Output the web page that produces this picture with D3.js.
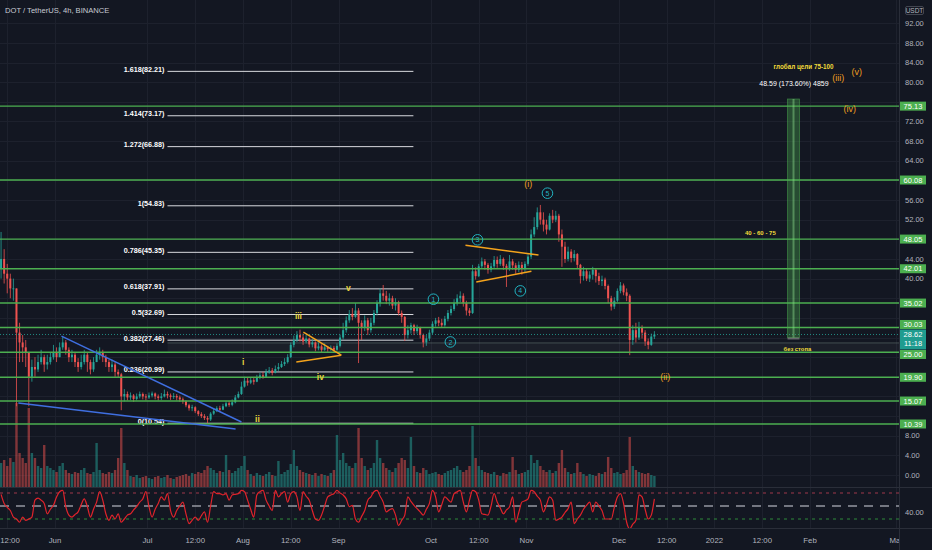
<!DOCTYPE html>
<html>
<head>
<meta charset="utf-8">
<script src="https://cdn.jsdelivr.net/npm/d3@7"></script>
<style>
html, body { margin: 0; padding: 0; background: #131722; }
svg { display: block; font-family: "Liberation Sans", Arial, sans-serif; }
</style>
</head>
<body>
<svg id="chart" width="932" height="550"></svg>
<script>
// ---- data (one candle per day from 2021-05-14) ----
var startDate = Date.UTC(2021, 4, 14);
var firstOpen = 42;
var closes = [44,41,40,38,38,29,27,26,25,20,22,21.5,23,24,22.5,23,24,25,24,26,
  27,25.5,24,24.5,23,22,23,24.5,23,21.5,23,24.5,25,24,23,22,22.5,21,20.5,16,
  16.5,15.8,16.2,15.5,16,16.5,16,15.8,16.2,16.6,16,15.7,16,16.5,16.2,15.9,16.1,15.8,15.4,15,
  14.2,13.6,13.8,13,12.4,12,11.6,11.3,12.5,13,13.6,13.3,14,14.6,14.3,14.8,15.8,16.5,18,19.2,
  18.8,19.3,19,19.8,20.3,20,21,21.3,20.8,21.6,22,22.6,23,24,26.5,27.5,28.5,28,27.2,27.8,
  26.6,27,25.8,26.2,25.5,26,25.7,25.9,25.5,26.3,28,29.5,31.5,32.8,32.2,33.5,31,30,31.5,29.5,
  31,33,35,37,36.5,35.5,36,34.5,35.2,33,32.2,28.5,29.5,30.5,29.3,30,28.5,27,27.8,29,
  30.8,31.5,31,30.5,31.8,33,33.8,35,36,36.5,35,33.5,33,41.5,40.5,42.5,43.5,42.8,41.8,42.5,
  43.8,43,44,42.6,42,43.5,42.7,41.8,42.8,42,43,44.5,49,50.5,53.5,52,51,50,52.8,52,
  52.8,49,46.5,44,45.5,44.2,45,42.8,40.5,41.5,40,40.8,41.8,40.5,39.5,39.8,38.5,36,34.3,35.5,
  37.5,38.6,37.2,36.5,27.5,29.5,28,30,29,27.2,26.5,28.2,28.62];
var highs = [49.5,46,43,41,40,38,31,28.5,27.5,25,23.5,24,24.5,25.5,24.5,24.5,25,26.5,26,27,
  28.2,27.5,26,25.5,25,23.8,24.5,25.5,25,23.5,24,25.5,26,25.5,24.5,23.5,23.5,23,21.5,20.8,
  17.5,17,16.8,16.5,16.6,17,16.8,16.5,16.8,17,16.8,16.4,16.7,17.4,17,16.6,16.7,16.5,16.2,15.8,
  15.2,14.5,14.3,14,13.2,12.8,12.4,12,12.8,13.6,14,14.1,14.5,15,15.1,15.4,16.3,17,19,20,
  19.8,19.9,19.8,20.4,20.8,21,21.6,22,21.8,22.3,22.8,23.2,23.8,24.6,27,28.4,29.3,29.6,28.8,28.6,
  28,27.8,27.2,27,26.6,26.8,26.3,26.4,26.3,26.8,28.6,31,32.3,33.6,34,35,34,31.5,32.5,32,
  32,33.6,35.6,38,38.7,37.5,37,36.5,36,35.5,33.5,32.4,30.5,31,30.8,30.6,30.2,28.8,28.5,29.6,
  31.3,32,32.2,31.8,32.4,33.6,34.5,35.8,36.8,37.4,37,35.5,34,42.8,42.3,43,44.3,44,43.2,43.2,
  44.6,44.5,44.8,44.3,43,44.8,44,43.2,43.5,43.4,43.5,45,50,52.5,54.5,55,53.5,52,53.3,54,
  53.8,53.2,50,47.5,46.5,46,45.8,45.2,43,42.4,42,41.5,42.4,42,41.2,40.6,40.2,38.8,36.5,36.2,
  38,39.3,39,38,36.8,30.5,31,31.2,30.5,29.5,27.8,28.8,29.3];
var lows = [40,39,37,36,35.5,14,23,23,22,14,19,20,21,22.5,21,21.5,22.5,23.5,23,24,
  25.5,24.5,23,23,22,21,21.5,22.5,21,20.5,21,23,23.5,23,22,21,21,20,19.8,13.2,
  15,15.2,15.3,14.9,15.2,15.6,15.4,15.2,15.5,15.8,15.4,15.2,15.3,15.8,15.6,15.3,15.5,15.2,14.9,14.5,
  13.8,13.1,13,12.6,12,11.6,11.2,10.54,11,12.2,12.8,12.9,13.2,13.8,13.9,14,14.6,15.6,16.3,17.8,
  18.2,18.5,18.4,18.9,19.5,19.6,20,20.6,20.3,20.7,21.2,21.8,22.2,22.7,23.8,26,27.1,27.2,26.5,26.8,
  26,26,25.2,25.4,25,25.3,25.1,25.3,25.1,25.3,26,27.6,29,31,31.5,32,22.8,27.5,29.3,28.5,
  29,30.5,32.5,34.3,35.5,34.8,34.5,33.8,33.5,32.5,31,27.3,27.8,28.8,28.5,28.8,27.8,26,26.3,27.3,
  28.7,30.2,30.3,30,30.2,31.3,32.5,33.4,34.5,35.2,34.3,32.5,32.4,32.8,39.8,40.3,42,41.8,41,41.3,
  42,42.2,42.6,41.8,38.3,41.6,41.8,41,41.3,40.8,41.3,42.6,44,48.5,50,51,49.6,49,49.8,51.3,
  51.5,47.5,42.4,43.2,43.5,43.3,43.5,42,39,39.6,39.5,39.3,39.8,39.2,38.7,38.5,37.8,35,33.5,33.8,
  35.2,37,36.6,35.4,24.4,26.5,27,27.5,27.8,26.3,25.6,26.3,27.7];
var volumes = [25,28,22,30,26,85,35,30,25,80,35,30,22,20,43,22,20,18,16,22,
  25,18,15,14,16,15,18,20,15,14,16,45,18,15,14,16,15,18,30,60,
  25,18,12,11,13,10,11,12,10,9,11,12,10,11,13,10,9,11,12,13,
  14,12,15,14,16,15,18,22,20,18,15,17,16,33,18,15,17,20,22,32,
  18,14,12,15,13,12,14,16,13,12,27,14,16,18,24,38,22,18,16,15,
  14,13,15,12,14,13,12,15,18,53,28,35,25,22,20,25,60,30,22,18,
  20,25,48,30,25,20,18,16,20,25,30,28,20,51,22,16,15,20,18,14,
  15,16,14,13,15,17,18,20,22,18,16,18,22,62,30,22,18,16,15,14,
  16,13,12,15,14,16,31,18,14,15,16,18,33,25,28,22,18,16,18,15,
  17,25,38,20,16,14,15,25,16,14,12,14,13,12,15,14,16,31,20,15,
  16,14,15,18,51,22,18,16,15,14,15,13,12];
var rsiValues = [68,54,48,43,33,30,25,33,28,30,33,59,62,59,54,38,45,51,64,72,
  74,49,36,33,37,41,52,61,49,33,45,56,72,59,38,28,36,30,38,25,
  30,36,38,44,49,56,61,72,49,33,45,54,64,59,69,43,33,43,50,56,
  38,23,28,33,28,35,41,25,50,72,69,69,67,69,59,67,68,69,74,72,
  59,45,33,67,72,74,59,50,43,74,64,69,72,56,69,72,64,43,72,65,
  59,43,30,28,36,50,64,67,69,74,70,67,61,49,51,30,25,34,43,59,
  64,72,74,65,56,41,44,46,36,20,28,36,64,57,51,46,41,36,45,54,
  74,64,41,52,64,60,56,69,72,74,56,41,59,74,72,59,38,37,36,50,
  69,56,47,38,44,49,64,25,40,56,58,61,74,72,65,59,41,52,64,59,
  28,30,33,40,46,56,23,30,36,45,51,56,41,56,50,43,30,30,30,48,
  64,69,54,25,15,22,28,67,64,45,30,36,61];

var priceLevels = [75.13, 60.08, 48.05, 42.01, 35.02, 30.03, 25.00, 19.90, 15.07, 10.39];
var lastPrice = 28.62;
var countdown = "11:18";

var fibRatios = ["1.618", "1.414", "1.272", "1", "0.786", "0.618", "0.5", "0.382", "0.236", "0"];
var fibPrices = [82.21, 73.17, 66.88, 54.83, 45.35, 37.91, 32.69, 27.46, 20.99, 10.54];
var fibDays = [54.5, 134.3];

var priceTicks = d3.range(0, 96, 4);
var tickDates = ["2021-05-16T12:00", "2021-06-01T00:00", "2021-07-01T00:00", "2021-07-16T12:00",
  "2021-08-01T00:00", "2021-08-16T12:00", "2021-09-01T00:00", "2021-10-01T00:00", "2021-10-16T12:00",
  "2021-11-01T00:00", "2021-12-01T00:00", "2021-12-16T12:00", "2022-01-01T00:00", "2022-01-16T12:00",
  "2022-02-01T00:00", "2022-03-01T00:00"];
var tickLabels = ["12:00", "Jun", "Jul", "12:00", "Aug", "12:00", "Sep", "Oct", "12:00",
  "Nov", "Dec", "12:00", "2022", "12:00", "Feb", "Mar"];
var rsiBands = [70, 50, 30];

// trend lines as [day, price] pairs
var wedgeLines = [[[20.1, 28.3], [78.5, 10.8]], [[6.1, 14.66], [76.6, 9.37]]];
var triangleLines = [[[98.6, 29.1], [110.9, 24.4]], [[96.3, 23.0], [110.9, 24.4]],
  [[151.2, 46.8], [174.9, 44.8]], [[154.7, 39.3], [172.6, 41.5]]];

var minorWaves = ["i", "ii", "iii", "iv", "v"];
var minorDays = [79.1, 83.7, 97.0, 104.1, 113.2];
var minorPrices = [23.0, 11.4, 32.4, 20.0, 38.1];
var majorWaves = ["(i)", "(ii)", "(iii)", "(iv)", "(v)"];
var majorDays = [171.6, 216.0, 272.2, 275.9, 278.2];
var majorPrices = [59.3, 20.0, 81.0, 74.5, 82.1];
var circleWaves = ["1", "2", "3", "4", "5"];
var circleDays = [140.8, 146.3, 155.1, 169.0, 177.8];
var circlePrices = [35.8, 27.1, 47.9, 37.5, 57.4];

var positionDays = [255.7, 259.6];
var positionEntry = 27.99, positionTarget = 76.58, positionStop = 27.6;
var noteTexts = ["глобал цели 75-100", "48.59 (173.60%) 4859", "40 - 60 - 75", "без стопа"];
var noteDays = [260.9, 257.8, 246.9, 258.9];
var notePrices = [83.1, 79.6, 49.3, 25.7];

// ---- layout ----
var W = 932, H = 550, plotRight = 899, priceBottom = 488, rsiBottom = 528;
var bg = "#131722", gridColor = "#1d212d", axisText = "#b2b5be";
var upColor = "#26a69a", downColor = "#ef5350", levelColor = "#4caf50";

var svg = d3.select("#chart");
svg.append("rect").attr("width", W).attr("height", H).attr("fill", bg);

var x = d3.scaleUtc()
    .domain([new Date(Date.UTC(2021, 4, 14)), new Date(Date.UTC(2022, 1, 1))])
    .range([-0.47, 810]);
var y = d3.scaleLinear().domain([0, 92]).range([475, 23.3]);
var yVol = d3.scaleLinear().domain([0, 100]).range([priceBottom, priceBottom - 100]);
var yRsi = d3.scaleLinear().domain([30, 70]).range([519, 493]);

function dayDate(d) { return new Date(startDate + d * 864e5); }
function xd(d) { return x(dayDate(d)); }

var defs = svg.append("defs");
defs.append("clipPath").attr("id", "pricePane")
    .append("rect").attr("x", 0).attr("y", 0).attr("width", plotRight).attr("height", priceBottom);
defs.append("clipPath").attr("id", "rsiPane")
    .append("rect").attr("x", 0).attr("y", priceBottom).attr("width", plotRight).attr("height", rsiBottom - priceBottom);
defs.append("clipPath").attr("id", "timeAxis")
    .append("rect").attr("x", 0).attr("y", rsiBottom).attr("width", plotRight).attr("height", H - rsiBottom);

var tickTimes = tickDates.map(function (s) { return new Date(s + ":00Z"); });

// grid
var grid = svg.append("g");
grid.selectAll(".hg").data(priceTicks).enter().append("line")
    .attr("x1", 0).attr("x2", plotRight)
    .attr("y1", function (d) { return Math.round(y(d)) + 0.5; })
    .attr("y2", function (d) { return Math.round(y(d)) + 0.5; })
    .attr("stroke", gridColor);
grid.selectAll(".vg").data(tickTimes).enter().append("line")
    .attr("x1", function (d) { return Math.round(x(d)) + 0.5; })
    .attr("x2", function (d) { return Math.round(x(d)) + 0.5; })
    .attr("y1", 0).attr("y2", rsiBottom)
    .attr("stroke", gridColor);

var price = svg.append("g").attr("clip-path", "url(#pricePane)");

// fib retracement
var fibX1 = xd(fibDays[0]), fibX2 = xd(fibDays[1]);
price.append("rect")
    .attr("x", fibX1).attr("width", plotRight - fibX1)
    .attr("y", y(26.9)).attr("height", y(25.0) - y(26.9))
    .attr("fill", "rgba(255,255,255,0.035)");
price.append("line")
    .attr("x1", fibX1).attr("x2", plotRight)
    .attr("y1", y(26.9)).attr("y2", y(26.9))
    .attr("stroke", "rgba(120,140,130,0.45)");
fibPrices.forEach(function (p, i) {
    price.append("line")
        .attr("x1", fibX1).attr("x2", fibX2)
        .attr("y1", y(p)).attr("y2", y(p))
        .attr("stroke", "#d8dadf").attr("stroke-width", 1);
    price.append("text")
        .attr("x", fibX1 - 3).attr("y", y(p) + 0.5)
        .attr("text-anchor", "end")
        .attr("fill", "#ffffff").attr("font-size", "7.2px").attr("font-weight", "bold")
        .text(fibRatios[i] + "(" + p.toFixed(2) + ")");
});

// candles
var candles = closes.map(function (c, i) {
    return { day: i, open: i === 0 ? firstOpen : closes[i - 1], close: c, high: highs[i], low: lows[i], vol: volumes[i] };
});
function candleColor(d) { return d.close >= d.open ? upColor : downColor; }

price.selectAll(".vol").data(candles).enter().append("rect")
    .attr("x", function (d) { return xd(d.day + 0.5) - 1.2; })
    .attr("width", 2.4)
    .attr("y", function (d) { return yVol(d.vol); })
    .attr("height", function (d) { return priceBottom - yVol(d.vol); })
    .attr("fill", candleColor).attr("opacity", 0.5);

price.selectAll(".wick").data(candles).enter().append("line")
    .attr("x1", function (d) { return xd(d.day + 0.5); })
    .attr("x2", function (d) { return xd(d.day + 0.5); })
    .attr("y1", function (d) { return y(d.high); })
    .attr("y2", function (d) { return y(d.low); })
    .attr("stroke", candleColor).attr("stroke-width", 0.8);
price.selectAll(".body").data(candles).enter().append("rect")
    .attr("x", function (d) { return xd(d.day + 0.5) - 1; })
    .attr("width", 2)
    .attr("y", function (d) { return y(Math.max(d.open, d.close)); })
    .attr("height", function (d) { return Math.max(0.8, Math.abs(y(d.open) - y(d.close))); })
    .attr("fill", candleColor);

// horizontal levels
price.selectAll(".lvl").data(priceLevels).enter().append("line")
    .attr("x1", 0).attr("x2", plotRight)
    .attr("y1", function (d) { return y(d); })
    .attr("y2", function (d) { return y(d); })
    .attr("stroke", levelColor).attr("stroke-width", 1.4);

// last price line
price.append("line")
    .attr("x1", 0).attr("x2", plotRight)
    .attr("y1", y(lastPrice)).attr("y2", y(lastPrice))
    .attr("stroke", upColor).attr("stroke-dasharray", "1,2").attr("opacity", 0.8);

// trend lines
var tline = d3.line().x(function (d) { return xd(d[0]); }).y(function (d) { return y(d[1]); });
wedgeLines.forEach(function (l) {
    price.append("path").attr("d", tline(l)).attr("stroke", "#3f6fe0").attr("stroke-width", 1.5).attr("fill", "none");
});
triangleLines.forEach(function (l) {
    price.append("path").attr("d", tline(l)).attr("stroke", "#f4a31c").attr("stroke-width", 1.5).attr("fill", "none");
});

// long position box
var px1 = xd(positionDays[0]), px2 = xd(positionDays[1]);
price.append("rect")
    .attr("x", px1).attr("width", px2 - px1)
    .attr("y", y(positionTarget)).attr("height", y(positionEntry) - y(positionTarget))
    .attr("fill", "rgba(76,175,80,0.35)").attr("stroke", "rgba(76,175,80,0.6)").attr("stroke-width", 0.8);
price.append("line")
    .attr("x1", (px1 + px2) / 2).attr("x2", (px1 + px2) / 2)
    .attr("y1", y(positionTarget)).attr("y2", y(positionEntry))
    .attr("stroke", "rgba(140,220,140,0.45)").attr("stroke-width", 2);
price.append("rect")
    .attr("x", px1).attr("width", px2 - px1)
    .attr("y", y(positionEntry)).attr("height", y(positionStop) - y(positionEntry))
    .attr("fill", "rgba(150,150,150,0.6)");

// wave labels
minorWaves.forEach(function (t, i) {
    price.append("text")
        .attr("x", xd(minorDays[i])).attr("y", y(minorPrices[i]) + 3)
        .attr("text-anchor", "middle").attr("fill", "#e6d33c")
        .attr("font-size", "8.5px").attr("font-weight", "bold").text(t);
});
majorWaves.forEach(function (t, i) {
    price.append("text")
        .attr("x", xd(majorDays[i])).attr("y", y(majorPrices[i]) + 3.2)
        .attr("text-anchor", "middle").attr("fill", "#f0a020")
        .attr("font-size", "9px").text(t);
});
circleWaves.forEach(function (t, i) {
    var cx = xd(circleDays[i]), cy = y(circlePrices[i]);
    price.append("circle").attr("cx", cx).attr("cy", cy).attr("r", 5.3)
        .attr("fill", "none").attr("stroke", "#22b3c1").attr("stroke-width", 1);
    price.append("text").attr("x", cx).attr("y", cy + 2.6)
        .attr("text-anchor", "middle").attr("fill", "#22b3c1")
        .attr("font-size", "7px").text(t);
});

// notes
var noteColors = ["#f2dc3a", "#ffffff", "#f2dc3a", "#f2dc3a"];
var noteSizes = ["6.3px", "7px", "6px", "5.8px"];
noteTexts.forEach(function (t, i) {
    price.append("text")
        .attr("x", xd(noteDays[i])).attr("y", y(notePrices[i]) + 2.3)
        .attr("text-anchor", "middle").attr("fill", noteColors[i])
        .attr("font-size", noteSizes[i]).attr("font-weight", i === 1 ? "normal" : "bold")
        .text(t);
});

// title
svg.append("text").attr("x", 5).attr("y", 13)
    .attr("fill", "#c8cbd3").attr("font-size", "7.6px")
    .text("DOT / TetherUS, 4h, BINANCE");

// RSI pane
var rsi = svg.append("g").attr("clip-path", "url(#rsiPane)");
var bandStyles = [
    { color: "#a0384a", dash: "3,4" },
    { color: "#9598a1", dash: "9,7" },
    { color: "#2e8b3a", dash: "3,4" }
];
rsiBands.forEach(function (b, i) {
    rsi.append("line")
        .attr("x1", 0).attr("x2", plotRight)
        .attr("y1", yRsi(b)).attr("y2", yRsi(b))
        .attr("stroke", bandStyles[i].color).attr("stroke-dasharray", bandStyles[i].dash)
        .attr("stroke-width", i === 1 ? 1.5 : 1);
});
var rsiLine = d3.line()
    .x(function (d, i) { return xd(i + 0.5); })
    .y(function (d) { return yRsi(d); })
    .curve(d3.curveMonotoneX);
rsi.append("path").datum(rsiValues)
    .attr("d", rsiLine)
    .attr("fill", "none").attr("stroke", "#e0232b").attr("stroke-width", 1.2);

// separators
svg.append("line").attr("x1", 0).attr("x2", W).attr("y1", priceBottom - 0.5).attr("y2", priceBottom - 0.5)
    .attr("stroke", "#2a2e39");
svg.append("line").attr("x1", 0).attr("x2", W).attr("y1", rsiBottom + 0.5).attr("y2", rsiBottom + 0.5)
    .attr("stroke", "#2a2e39");
svg.append("line").attr("x1", plotRight + 0.5).attr("x2", plotRight + 0.5).attr("y1", 0).attr("y2", H)
    .attr("stroke", "#2a2e39");

// time axis
var timeAxis = svg.append("g").attr("clip-path", "url(#timeAxis)");
timeAxis.selectAll("text").data(tickTimes).enter().append("text")
    .attr("x", function (d) { return Math.max(x(d), 10); })
    .attr("y", 543)
    .attr("text-anchor", "middle").attr("fill", axisText).attr("font-size", "7.8px")
    .text(function (d, i) { return tickLabels[i]; });

// price axis labels: the last-price box stays put, level labels slide off it
var lastTop = y(lastPrice) - 5, lastBottom = y(lastPrice) + 15, boxH = 9;
var levelLabelY = priceLevels.map(function (p) {
    var cy = y(p);
    if (cy <= y(lastPrice) && cy + boxH / 2 > lastTop) cy = lastTop - boxH / 2 - 0.5;
    if (cy > y(lastPrice) && cy - boxH / 2 < lastBottom) cy = lastBottom + boxH / 2 + 0.5;
    return cy;
});
var labelYs = levelLabelY.concat([y(lastPrice), y(lastPrice) + 10]);
var shownTicks = priceTicks.filter(function (t) {
    return labelYs.every(function (ly) { return Math.abs(y(t) - ly) > 9; });
});
var axisG = svg.append("g");
axisG.selectAll(".pt").data(shownTicks).enter().append("text")
    .attr("x", 905).attr("y", function (d) { return y(d) + 2.7; })
    .attr("fill", axisText).attr("font-size", "7.5px")
    .text(function (d) { return d.toFixed(2); });
axisG.append("rect").attr("x", 905.5).attr("y", 6.5).attr("width", 18).attr("height", 8)
    .attr("fill", bg).attr("stroke", "#434651").attr("rx", 1.5);
axisG.append("text").attr("x", 914.5).attr("y", 13).attr("text-anchor", "middle")
    .attr("fill", axisText).attr("font-size", "6.5px").text("USDT");
axisG.append("text").attr("x", 905).attr("y", yRsi(40) + 2.7)
    .attr("fill", axisText).attr("font-size", "7.5px").text((40).toFixed(2));

priceLevels.forEach(function (p, i) {
    var cy = levelLabelY[i];
    axisG.append("rect").attr("x", 900).attr("y", cy - boxH / 2).attr("width", 26).attr("height", boxH)
        .attr("fill", levelColor);
    axisG.append("text").attr("x", 913).attr("y", cy + 2.7).attr("text-anchor", "middle")
        .attr("fill", "#ffffff").attr("font-size", "7.5px").text(p.toFixed(2));
});
axisG.append("rect").attr("x", 900).attr("y", lastTop).attr("width", 26).attr("height", lastBottom - lastTop)
    .attr("fill", "#1f9c8f");
axisG.append("text").attr("x", 913).attr("y", y(lastPrice) + 2.7).attr("text-anchor", "middle")
    .attr("fill", "#ffffff").attr("font-size", "7.5px").text(lastPrice.toFixed(2));
axisG.append("text").attr("x", 913).attr("y", y(lastPrice) + 12).attr("text-anchor", "middle")
    .attr("fill", "#ffffff").attr("font-size", "7.5px").text(countdown);
</script>
</body>
</html>
